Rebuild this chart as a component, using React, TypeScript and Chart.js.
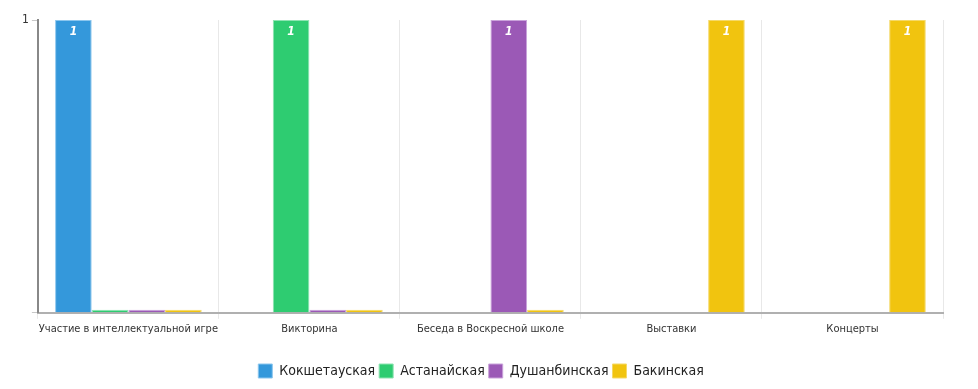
import React, { useEffect, useRef } from "react";
import { Chart, registerables } from "chart.js";

Chart.register(...registerables);

const categories = [
  "Участие в интеллектуальной игре",
  "Викторина",
  "Беседа в Воскресной школе",
  "Выставки",
  "Концерты",
];
const seriesNames = ["Кокшетауская", "Астанайская", "Душанбинская", "Бакинская"];
const kokshetau = [1, null, null, null, null];
const astana = [0, 1, null, null, null];
const dushanbe = [0, 0, 1, null, null];
const baku = [0, 0, 0, 1, 1];
const colors = ["#3498db", "#2ecc71", "#9b59b6", "#f1c40f"];
const borderColors = ["#8cc6ee", "#8ee4b2", "#c9a3da", "#f5d968"];

const FONT = "'DejaVu Sans Condensed', 'Liberation Sans Narrow', sans-serif";

const labelPlugin = {
  id: "barLabels",
  afterDatasetsDraw(chart: any) {
    const ctx = chart.ctx;
    ctx.save();
    ctx.fillStyle = "#ffffff";
    ctx.font = `italic bold 12px ${FONT}`;
    ctx.textAlign = "center";
    ctx.textBaseline = "middle";
    chart.data.datasets.forEach((ds: any, i: number) => {
      const meta = chart.getDatasetMeta(i);
      meta.data.forEach((bar: any, j: number) => {
        const v = ds.data[j];
        if (v !== null && v > 0) {
          ctx.fillText(String(v), bar.x, bar.y + 12);
        }
      });
    });
    ctx.restore();
  },
};

export default function App() {
  const ref = useRef<HTMLCanvasElement>(null);
  useEffect(() => {
    const values = [kokshetau, astana, dushanbe, baku];
    const chart = new Chart(ref.current!, {
      type: "bar",
      data: {
        labels: categories,
        datasets: seriesNames.map((name, i) => ({
          label: name,
          data: values[i],
          backgroundColor: colors[i],
          borderColor: borderColors[i],
          borderWidth: 1,
          borderSkipped: "bottom",
          minBarLength: 3,
          barPercentage: 1,
          categoryPercentage: 0.81,
        })),
      },
      options: {
        animation: false,
        responsive: true,
        maintainAspectRatio: false,
        layout: { padding: { left: 11, right: 27, top: 12, bottom: 0 } },
        plugins: {
          legend: {
            position: "bottom",
            labels: {
              boxWidth: 14,
              boxHeight: 14,
              color: "#222",
              font: { family: FONT, size: 14 },
              padding: 4,
            },
          },
          tooltip: { enabled: false },
        },
        scales: {
          x: {
            grid: {
              color: "#e8e8e8",
              drawOnChartArea: true,
              tickLength: 6,
            },
            border: { color: "#b0b0b0", width: 2 },
            ticks: {
              color: "#333",
              font: { family: FONT, size: 11 },
              maxRotation: 0,
              autoSkip: false,
              padding: 4,
            },
            afterFit: (scale: any) => {
              scale.height = scale.height + 20;
            },
          },
          y: {
            min: 0,
            max: 1,
            grid: {
              drawOnChartArea: false,
              drawTicks: true,
              tickLength: 6,
              color: "#c8c8c8",
            },
            border: { color: "#888", width: 2 },
            ticks: {
              stepSize: 1,
              color: "#333",
              font: { family: FONT, size: 12 },
              callback: (v: any) => (v === 1 ? "1" : ""),
            },
          },
        },
      },
      plugins: [labelPlugin],
    });
    return () => chart.destroy();
  }, []);
  return (
    <div style={{ height: 380, position: "relative" }}>
      <canvas ref={ref} />
    </div>
  );
}
